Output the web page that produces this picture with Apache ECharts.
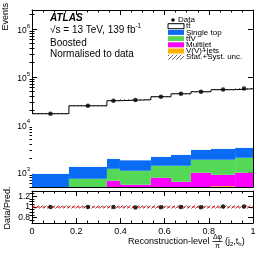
<!DOCTYPE html>
<html><head><meta charset="utf-8">
<script src="https://cdn.jsdelivr.net/npm/echarts@6/dist/echarts.min.js"></script>
<style>html,body{margin:0;padding:0;background:#fff}#c{width:266px;height:258px}</style>
</head><body><div id="c"></div>
<script>
// ---------------- data ----------------
const binEdges   = [0, 0.167, 0.339, 0.398, 0.538, 0.629, 0.719, 0.81, 0.919, 1];
const vvjets     = [100, 150, 200, 200, 250, 250, 300, 520, 350];
const multijet   = [200, 300, 476, 357, 530, 394, 693, 382, 643];
const ttV        = [170, 293, 524, 537, 610, 746, 865, 956, 1047];
const singleTop  = [476, 582, 745, 726, 750, 970, 1142, 1292, 1270];
const ttbar      = [16054, 23575, 29855, 31480, 36360, 42040, 45900, 50850, 53190];
const dataRatio  = [1.0, 1.0, 1.0, 0.99, 0.995, 1.0, 0.995, 1.01, 1.01];
const relUnc     = [0.03, 0.03, 0.03, 0.03, 0.03, 0.03, 0.03, 0.03, 0.03];
const yMajorTicks = [1e3, 1e4, 1e5, 1e6];
const ratioTicks  = [0.8, 1, 1.2];
const xTickLabels = ['0', '0.2', '0.4', '0.6', '0.8', '1'];
// ---------------------------------------

const YMIN = 500, YMAX = 2.5e6, RMIN = 0.7, RMAX = 1.3;
const FONT = "'Liberation Sans', Arial, sans-serif";
const nb = ttbar.length;

const comps = [
  {name: 'V(V)+jets', vals: vvjets, color: '#ffb300'},
  {name: 'Multijet', vals: multijet, color: '#ff00ff'},
  {name: 'ttV', vals: ttV, color: '#55d855'},
  {name: 'Single top', vals: singleTop, color: '#0a6cf5'},
  {name: 'ttbar', vals: ttbar, color: '#ffffff'}
];
const cum = new Array(nb).fill(0);
comps.forEach(c => {
  c.rows = c.vals.map((v, i) => { const lo = cum[i]; cum[i] += v; return [binEdges[i], binEdges[i+1], lo, cum[i]]; });
});
const total = cum.slice();
const dataVals = total.map((t, i) => t * dataRatio[i]);
const centers = binEdges.slice(0, -1).map((e, i) => (e + binEdges[i+1]) / 2);

// hatch pattern
const pc = document.createElement('canvas');
pc.width = 4; pc.height = 4;
const pctx = pc.getContext('2d');
pctx.strokeStyle = '#444'; pctx.lineWidth = 0.8;
pctx.beginPath(); pctx.moveTo(0, 4); pctx.lineTo(4, 0); pctx.stroke();
pctx.beginPath(); pctx.moveTo(-1, 1); pctx.lineTo(1, -1); pctx.stroke();
pctx.beginPath(); pctx.moveTo(3, 5); pctx.lineTo(5, 3); pctx.stroke();
const hatch = {image: pc, repeat: 'repeat'};

function rectRender(fill, minV) {
  return function (params, api) {
    const x0 = api.value(0), x1 = api.value(1);
    let lo = Math.max(api.value(2), minV), hi = api.value(3);
    if (hi <= minV) return null;
    const p0 = api.coord([x0, hi]), p1 = api.coord([x1, lo]);
    return {type: 'rect', shape: {x: p0[0], y: p0[1], width: p1[0] - p0[0], height: p1[1] - p0[1]},
            style: {fill: fill}};
  };
}

const series = [];
comps.forEach(c => {
  series.push({type: 'custom', name: c.name, xAxisIndex: 0, yAxisIndex: 0, renderItem: rectRender(c.color, YMIN),
    data: c.rows, encode: {x: [0, 1], y: [2, 3]}, silent: true, z: 2});
});
// uncertainty band main
series.push({type: 'custom', xAxisIndex: 0, yAxisIndex: 0, renderItem: rectRender(hatch, YMIN),
  data: total.map((t, i) => [binEdges[i], binEdges[i+1], t * (1 - relUnc[i]), t * (1 + relUnc[i])]),
  encode: {x: [0, 1], y: [2, 3]}, z: 3, silent: true});
// total step line
series.push({type: 'line', xAxisIndex: 0, yAxisIndex: 0, step: 'end', symbol: 'none',
  data: binEdges.map((e, i) => [e, total[Math.min(i, nb - 1)]]),
  lineStyle: {color: '#000', width: 1}, z: 4, silent: true});
// data
series.push({type: 'scatter', xAxisIndex: 0, yAxisIndex: 0, symbol: 'circle', symbolSize: 4.5,
  data: centers.map((c, i) => [c, dataVals[i]]), itemStyle: {color: '#000'}, z: 6, silent: true});
// ratio band
series.push({type: 'custom', xAxisIndex: 2, yAxisIndex: 4, renderItem: rectRender(hatch, RMIN),
  data: relUnc.map((u, i) => [binEdges[i], binEdges[i+1], 1 - u, 1 + u]),
  encode: {x: [0, 1], y: [2, 3]}, z: 3, silent: true});
series.push({type: 'line', xAxisIndex: 2, yAxisIndex: 4, symbol: 'none', data: [[0, 1], [1, 1]],
  lineStyle: {color: '#ff0000', width: 1, type: [3, 2]}, z: 4, silent: true});
series.push({type: 'scatter', xAxisIndex: 2, yAxisIndex: 4, symbol: 'circle', symbolSize: 4.5,
  data: centers.map((c, i) => [c, dataRatio[i]]), itemStyle: {color: '#000'}, z: 6, silent: true});

const grids = [
  {left: 32, width: 221, top: 10, height: 177},
  {left: 32, width: 221, top: 191, height: 32}
];
const axLine = {show: true, onZero: false, lineStyle: {color: '#000', width: 1}};
function xAx(grid, pos, labels) {
  return {type: 'value', gridIndex: grid, position: pos, min: 0, max: 1, interval: 0.2,
    axisLine: axLine, splitLine: {show: false},
    axisTick: {show: true, inside: true, length: 5, lineStyle: {color: '#000'}},
    minorTick: {show: true, splitNumber: 4, length: 2.5, lineStyle: {color: '#000'}},
    axisLabel: labels ? {show: true, fontFamily: FONT, fontSize: 9, color: '#000', margin: 4,
      formatter: v => xTickLabels[Math.round(v / 0.2)]} : {show: false}};
}
const minorLog = [];
for (let d = 2; d <= 6; d++) for (let m = 1; m <= 9; m++) { const v = m * Math.pow(10, d); if (v >= YMIN && v <= YMAX && m > 1) minorLog.push(v); }
function yLog(pos, major, labels) {
  return {type: 'log', gridIndex: 0, position: pos, min: YMIN, max: YMAX, logBase: 10,
    axisLine: major ? axLine : {show: false}, splitLine: {show: false},
    axisTick: {show: true, inside: true, length: major ? 5 : 2.5, lineStyle: {color: '#000'},
      customValues: major ? yMajorTicks : minorLog},
    axisLabel: labels ? {show: true, customValues: yMajorTicks, margin: 2,
      formatter: v => '{b|10}{s|' + Math.round(Math.log10(v)) + '}',
      rich: {b: {fontFamily: FONT, fontSize: 8.5, color: '#000', lineHeight: 12, verticalAlign: 'bottom'},
             s: {fontFamily: FONT, fontSize: 6, color: '#000', lineHeight: 12, verticalAlign: 'top'}}} : {show: false}};
}
const ratioMinor = [0.75, 0.85, 0.9, 0.95, 1.05, 1.1, 1.15, 1.25];
function yRat(pos, major, labels) {
  return {type: 'value', gridIndex: 1, position: pos, min: RMIN, max: RMAX,
    axisLine: major ? axLine : {show: false}, splitLine: {show: false},
    axisTick: {show: true, inside: true, length: major ? 5 : 2.5, lineStyle: {color: '#000'},
      customValues: major ? ratioTicks : ratioMinor},
    axisLabel: labels ? {show: true, customValues: ratioTicks, margin: 2, fontFamily: FONT, fontSize: 8.5, color: '#000',
      formatter: v => String(Math.round(v * 10) / 10)} : {show: false}};
}

const txt = (x, y, s, size, extra) => Object.assign({type: 'text', x: x, y: y,
  style: Object.assign({text: s, fontFamily: FONT, fontSize: size, fill: '#000', verticalAlign: 'middle'}, extra || {})});

// legend
const legItems = [
  {label: 'tt\u0304', fill: '#fff', stroke: '#000'},
  {label: 'Single top', fill: comps[3].color},
  {label: 'tt\u0304V', fill: comps[2].color},
  {label: 'Multijet', fill: comps[1].color},
  {label: 'V(V)+jets', fill: comps[0].color},
  {label: 'Stat.+Syst. unc.', fill: hatch}
];
const LX = 168, LY0 = 20, LDY = 6.2;
const graphics = [
  txt(50, 18, 'ATLAS', 10, {fontWeight: 'bold', fontStyle: 'italic'}),
  {type: 'text', x: 50, y: 30, style: {text: '√s = 13 TeV, 139 fb{s|-1}', fontFamily: FONT, fontSize: 10, fill: '#000', verticalAlign: 'middle',
    rich: {s: {fontFamily: FONT, fontSize: 6.5, fill: '#000', verticalAlign: 'bottom', padding: [0, 0, 7, 0]}}}},
  txt(50, 43, 'Boosted', 10),
  txt(50, 54, 'Normalised to data', 10),
  {type: 'circle', shape: {cx: 173, cy: LY0, r: 1.8}, style: {fill: '#000'}},
  txt(178, LY0, 'Data', 8),
  {type: 'text', x: 6, y: 3, rotation: Math.PI / 2, style: {text: 'Events', fontFamily: FONT, fontSize: 9, fill: '#000', align: 'right', verticalAlign: 'middle'}},
  {type: 'text', x: 8, y: 208, rotation: Math.PI / 2, style: {text: 'Data/Pred.', fontFamily: FONT, fontSize: 9, fill: '#000', align: 'center', verticalAlign: 'middle'}},
  {type: 'text', x: 128, y: 242, style: {text: 'Reconstruction-level', fontFamily: FONT, fontSize: 9, fill: '#000', align: 'left', verticalAlign: 'middle'}},
  {type: 'text', x: 217.5, y: 237, style: {text: 'Δφ', fontFamily: FONT, fontSize: 7, fill: '#000', align: 'center', verticalAlign: 'middle'}},
  {type: 'line', shape: {x1: 212.5, y1: 241.5, x2: 222.5, y2: 241.5}, style: {stroke: '#000', lineWidth: 0.8}},
  {type: 'text', x: 217.5, y: 246.5, style: {text: 'π', fontFamily: FONT, fontSize: 7, fill: '#000', align: 'center', verticalAlign: 'middle'}},
  {type: 'text', x: 225, y: 242, style: {text: '(j{s|2},t{s|h})', fontFamily: FONT, fontSize: 9, fill: '#000', verticalAlign: 'middle',
    rich: {s: {fontFamily: FONT, fontSize: 6, fill: '#000', verticalAlign: 'top', padding: [5, 0, 0, 0]}}}}
];
legItems.forEach((it, k) => {
  const y = LY0 + (k + 1) * LDY;
  graphics.push({type: 'rect', shape: {x: LX, y: y - 2.5, width: 16, height: 5},
    style: {fill: it.fill, stroke: it.stroke || null, lineWidth: it.stroke ? 1 : 0}});
  graphics.push(txt(LX + 18, y, it.label, 8));
});

const chart = echarts.init(document.getElementById('c'), null, {renderer: 'canvas'});
chart.setOption({
  animation: false,
  backgroundColor: '#fff',
  grid: grids,
  xAxis: [xAx(0, 'bottom', false), xAx(0, 'top', false), xAx(1, 'bottom', true), xAx(1, 'top', false)],
  yAxis: [yLog('left', true, true), yLog('left', false, false), yLog('right', true, false), yLog('right', false, false),
          yRat('left', true, true), yRat('left', false, false), yRat('right', true, false), yRat('right', false, false)],
  series: series,
  graphic: graphics
});
</script></body></html>
